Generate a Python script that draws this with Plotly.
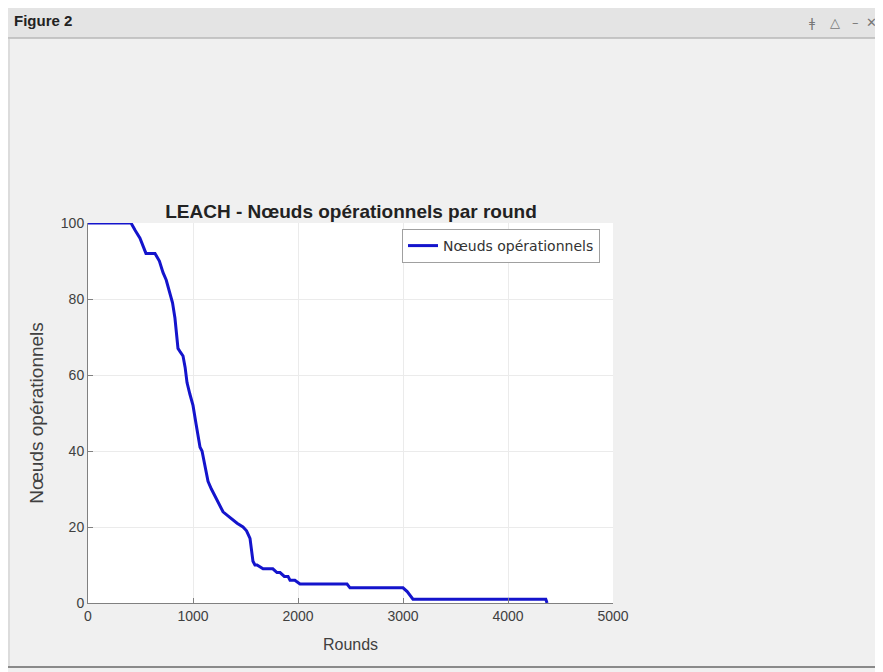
import plotly.graph_objects as go

# Data (rounds vs. alive nodes)
rounds = [0, 410, 450, 495, 552, 638, 680, 714, 745, 781, 805, 828, 848, 857, 880, 905, 925,
          943, 970, 1000, 1030, 1067, 1086, 1110, 1143, 1175, 1210, 1250, 1286, 1330, 1371,
          1420, 1476, 1510, 1543, 1555, 1571, 1590, 1610, 1667, 1714, 1760, 1800, 1829, 1870,
          1905, 1924, 1970, 2019, 2467, 2495, 3000, 3040, 3067, 3095, 4360, 4372]
alive = [100, 100, 98, 96, 92, 92, 90, 87, 85, 81, 79, 75, 69, 67, 66, 65, 62,
         58, 55, 52, 47, 41, 40, 37, 32, 30, 28, 26, 24, 23, 22,
         21, 20, 19, 17, 14, 11, 10, 10, 9, 9, 9, 8, 8, 7,
         7, 6, 6, 5, 5, 4, 4, 3, 2, 1, 1, 0]

x_ticks = [0, 1000, 2000, 3000, 4000, 5000]
y_ticks = [0, 20, 40, 60, 80, 100]

OFF = 8  # page body margin
W, H = 883 - OFF, 672 - OFF
L, R, T, B = 88, 613, 223, 603  # plot area, absolute page pixels


def px(xp):
    return (xp - L) / (R - L)


def py(yp):
    return (B - yp) / (B - T)


fig = go.Figure()
fig.add_trace(go.Scatter(
    x=rounds, y=alive, mode="lines", name="Nœuds opérationnels",
    line=dict(color="#1414cc", width=3),
))

shapes = [
    # title bar
    dict(type="rect", xref="paper", yref="paper", x0=px(8), x1=px(883), y0=py(38), y1=py(8),
         fillcolor="#e4e4e4", line=dict(width=0), layer="below"),
    dict(type="line", xref="paper", yref="paper", x0=px(8), x1=px(883), y0=py(38), y1=py(38),
         line=dict(color="#b8b8b8", width=1.5)),
    # left border
    dict(type="line", xref="paper", yref="paper", x0=px(9), x1=px(9), y0=py(668), y1=py(38),
         line=dict(color="#c8c8c8", width=1)),
    # bottom border
    dict(type="line", xref="paper", yref="paper", x0=px(8), x1=px(883), y0=py(667), y1=py(667),
         line=dict(color="#8a8a8a", width=2)),
]

annotations = [
    dict(text="<b>Figure 2</b>", xref="paper", yref="paper", x=px(12), y=py(21),
         xanchor="left", yanchor="middle", showarrow=False,
         font=dict(family="Liberation Sans, Arial", size=15, color="#222222")),
]
for ch, xpos in [("ǂ", 812), ("△", 835), ("–", 855), ("✕", 871)]:
    annotations.append(dict(text=ch, xref="paper", yref="paper", x=px(xpos), y=py(22),
                            xanchor="center", yanchor="middle", showarrow=False,
                            font=dict(family="DejaVu Sans", size=13, color="#777777")))

fig.update_layout(
    width=W, height=H,
    margin=dict(l=L - OFF, r=W - (R - OFF), t=T - OFF, b=H - (B - OFF), pad=0),
    paper_bgcolor="#f0f0f0", plot_bgcolor="white",
    shapes=shapes, annotations=annotations,
    title=dict(text="<b>LEACH - Nœuds opérationnels par round</b>",
               xref="paper", x=px(351), xanchor="center",
               yref="container", y=1 - (211 - OFF) / H, yanchor="middle",
               font=dict(family="Liberation Sans, Arial", size=19, color="#222222")),
    font=dict(family="Liberation Sans, Arial", color="#404040"),
    showlegend=True,
    legend=dict(x=px(600), y=py(229), xanchor="right", yanchor="top",
                bgcolor="white", bordercolor="#a0a0a0", borderwidth=1,
                font=dict(family="DejaVu Sans", size=14, color="#333333"),
                tracegroupgap=0),
)

fig.update_xaxes(
    range=[0, 5000], tickvals=x_ticks, ticktext=[str(v) for v in x_ticks],
    showgrid=True, gridcolor="#ebebeb", gridwidth=1, zeroline=False,
    showline=True, linecolor="#808080", linewidth=1, mirror=False,
    ticks="inside", ticklen=5, tickcolor="#808080",
    tickfont=dict(size=14, color="#404040"),
    title=dict(text="Rounds", font=dict(size=16, color="#404040"), standoff=16),
)
fig.update_yaxes(
    range=[0, 100], tickvals=y_ticks, ticktext=[str(v) for v in y_ticks],
    showgrid=True, gridcolor="#ebebeb", gridwidth=1, zeroline=False,
    showline=True, linecolor="#808080", linewidth=1, mirror=False,
    ticks="inside", ticklen=5, tickcolor="#808080",
    tickfont=dict(size=14, color="#404040"),
    title=dict(text="Nœuds opérationnels", font=dict(size=19, color="#404040"), standoff=12),
)

fig.write_html("out.html")
